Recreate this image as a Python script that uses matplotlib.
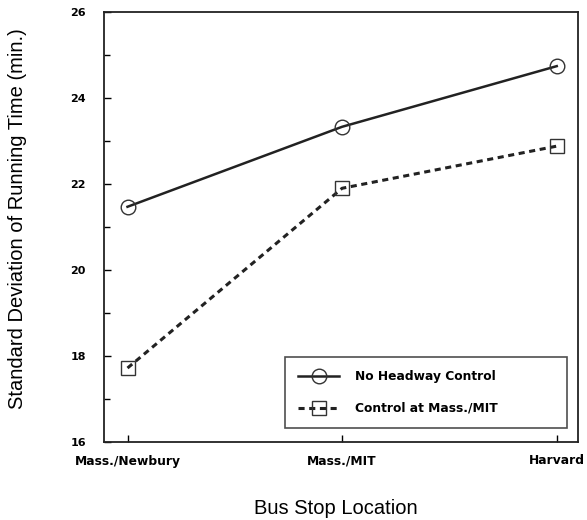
import matplotlib
matplotlib.use("Agg")
import matplotlib.pyplot as plt
from matplotlib.ticker import MultipleLocator

categories = ["Mass./Newbury", "Mass./MIT", "Harvard"]
no_control = [21.47, 23.33, 24.74]
control_mit = [17.72, 21.90, 22.88]
series_labels = ["No Headway Control", "Control at Mass./MIT"]
yticks = [16, 18, 20, 22, 24, 26]

plt.rcParams['font.family'] = ['Liberation Sans', 'DejaVu Sans']

fig = plt.figure(figsize=(5.87, 5.2), dpi=100)
ax = fig.add_axes([0.177, 0.15, 0.808, 0.827])

x = list(range(len(categories)))
ax.plot(x, no_control, color='#222222', lw=1.8, marker='o', ms=10.5,
        mfc='none', mec='#333333', mew=1.0, label=series_labels[0])
ax.plot(x, control_mit, color='#222222', lw=2.2, linestyle=(0, (2.0, 1.5)),
        marker='s', ms=9.5, mfc='none', mec='#333333', mew=1.0,
        label=series_labels[1])

ax.set_xlim(-0.11, 2.1)
ax.set_ylim(16, 26)
ax.set_xticks(x)
xtick_font = {'family': 'DejaVu Sans', 'weight': 'bold', 'size': 8.8}
ytick_font = {'family': 'DejaVu Sans', 'weight': 'bold', 'size': 8.0}
ax.set_xticklabels(categories, fontdict=xtick_font)
ax.set_yticks(yticks)
ax.set_yticklabels([str(t) for t in yticks], fontdict=ytick_font)
ax.yaxis.set_minor_locator(MultipleLocator(1))
ax.tick_params(axis='both', which='major', direction='in', length=5, width=1)
ax.tick_params(axis='y', which='minor', direction='in', length=4, width=1)
ax.tick_params(axis='y', which='major', pad=13)
ax.tick_params(axis='x', which='major', pad=9)
for s in ax.spines.values():
    s.set_linewidth(1.3)
    s.set_color('#222222')

ax.set_ylabel("Standard Deviation of Running Time (min.)", fontsize=14.5)
ax.yaxis.set_label_coords(-0.162, 0.52)
ax.set_xlabel("Bus Stop Location", fontsize=14.5)
ax.xaxis.set_label_coords(0.489, -0.132)

leg = ax.legend(loc='lower left', bbox_to_anchor=(0.382, 0.033, 0.595, 0.167),
                mode='expand', borderaxespad=0, frameon=True,
                fancybox=False, edgecolor='#222222', handlelength=3.4,
                handletextpad=1.3, borderpad=1.05, labelspacing=1.55,
                prop={'family': 'DejaVu Sans', 'weight': 'bold', 'size': 8.8})
leg.get_frame().set_linewidth(1.2)

fig.savefig("out.png", dpi=100)
